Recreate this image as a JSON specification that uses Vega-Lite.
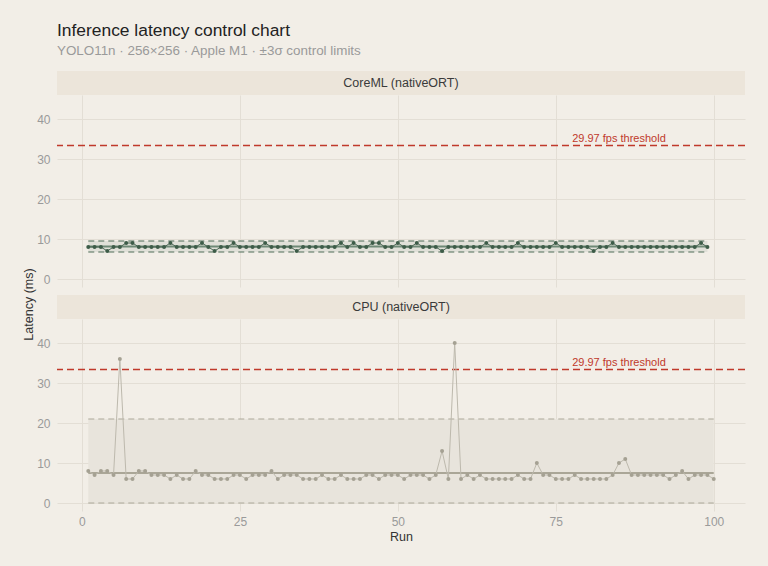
{
  "$schema": "https://vega.github.io/schema/vega-lite/v6.json",
  "autosize": {"type": "pad"},
  "padding": {"left": 21, "top": 22, "right": 23, "bottom": 24},
  "background": "#f2eee7",
  "title": {
    "text": "Inference latency control chart",
    "subtitle": "YOLO11n · 256×256 · Apple M1 · ±3σ control limits",
    "anchor": "start",
    "frame": "group",
    "fontSize": 17.4,
    "fontWeight": "normal",
    "color": "#222222",
    "subtitleFontSize": 13.4,
    "subtitleColor": "#9a9a9a",
    "subtitlePadding": 4,
    "offset": 14
  },
  "datasets": {
    "coreml": [
      {"run":1,"ms":8},{"run":2,"ms":8},{"run":3,"ms":8},{"run":4,"ms":7},{"run":5,"ms":8},{"run":6,"ms":8},{"run":7,"ms":9},{"run":8,"ms":9},{"run":9,"ms":8},{"run":10,"ms":8},
      {"run":11,"ms":8},{"run":12,"ms":8},{"run":13,"ms":8},{"run":14,"ms":9},{"run":15,"ms":8},{"run":16,"ms":8},{"run":17,"ms":8},{"run":18,"ms":8},{"run":19,"ms":9},{"run":20,"ms":8},
      {"run":21,"ms":7},{"run":22,"ms":8},{"run":23,"ms":8},{"run":24,"ms":9},{"run":25,"ms":8},{"run":26,"ms":8},{"run":27,"ms":8},{"run":28,"ms":8},{"run":29,"ms":9},{"run":30,"ms":8},
      {"run":31,"ms":8},{"run":32,"ms":8},{"run":33,"ms":8},{"run":34,"ms":7},{"run":35,"ms":8},{"run":36,"ms":8},{"run":37,"ms":8},{"run":38,"ms":8},{"run":39,"ms":8},{"run":40,"ms":8},
      {"run":41,"ms":9},{"run":42,"ms":8},{"run":43,"ms":9},{"run":44,"ms":8},{"run":45,"ms":8},{"run":46,"ms":9},{"run":47,"ms":9},{"run":48,"ms":8},{"run":49,"ms":8},{"run":50,"ms":9},
      {"run":51,"ms":8},{"run":52,"ms":8},{"run":53,"ms":9},{"run":54,"ms":8},{"run":55,"ms":8},{"run":56,"ms":8},{"run":57,"ms":7},{"run":58,"ms":8},{"run":59,"ms":8},{"run":60,"ms":8},
      {"run":61,"ms":8},{"run":62,"ms":8},{"run":63,"ms":8},{"run":64,"ms":9},{"run":65,"ms":8},{"run":66,"ms":8},{"run":67,"ms":8},{"run":68,"ms":8},{"run":69,"ms":9},{"run":70,"ms":8},
      {"run":71,"ms":8},{"run":72,"ms":8},{"run":73,"ms":8},{"run":74,"ms":8},{"run":75,"ms":9},{"run":76,"ms":8},{"run":77,"ms":8},{"run":78,"ms":8},{"run":79,"ms":8},{"run":80,"ms":8},
      {"run":81,"ms":7},{"run":82,"ms":8},{"run":83,"ms":8},{"run":84,"ms":9},{"run":85,"ms":8},{"run":86,"ms":8},{"run":87,"ms":8},{"run":88,"ms":8},{"run":89,"ms":8},{"run":90,"ms":8},
      {"run":91,"ms":8},{"run":92,"ms":8},{"run":93,"ms":8},{"run":94,"ms":8},{"run":95,"ms":8},{"run":96,"ms":8},{"run":97,"ms":8},{"run":98,"ms":9},{"run":99,"ms":8}
    ],
    "cpu": [
      {"run":1,"ms":8},{"run":2,"ms":7},{"run":3,"ms":8},{"run":4,"ms":8},{"run":5,"ms":7},{"run":6,"ms":36},{"run":7,"ms":6},{"run":8,"ms":6},{"run":9,"ms":8},{"run":10,"ms":8},
      {"run":11,"ms":7},{"run":12,"ms":7},{"run":13,"ms":7},{"run":14,"ms":6},{"run":15,"ms":7},{"run":16,"ms":6},{"run":17,"ms":6},{"run":18,"ms":8},{"run":19,"ms":7},{"run":20,"ms":7},
      {"run":21,"ms":6},{"run":22,"ms":6},{"run":23,"ms":6},{"run":24,"ms":7},{"run":25,"ms":7},{"run":26,"ms":6},{"run":27,"ms":7},{"run":28,"ms":7},{"run":29,"ms":7},{"run":30,"ms":8},
      {"run":31,"ms":6},{"run":32,"ms":7},{"run":33,"ms":7},{"run":34,"ms":7},{"run":35,"ms":6},{"run":36,"ms":6},{"run":37,"ms":6},{"run":38,"ms":7},{"run":39,"ms":6},{"run":40,"ms":6},
      {"run":41,"ms":7},{"run":42,"ms":6},{"run":43,"ms":6},{"run":44,"ms":6},{"run":45,"ms":7},{"run":46,"ms":7},{"run":47,"ms":6},{"run":48,"ms":7},{"run":49,"ms":7},{"run":50,"ms":7},
      {"run":51,"ms":6},{"run":52,"ms":7},{"run":53,"ms":7},{"run":54,"ms":7},{"run":55,"ms":6},{"run":56,"ms":7},{"run":57,"ms":13},{"run":58,"ms":6},{"run":59,"ms":40},{"run":60,"ms":6},
      {"run":61,"ms":7},{"run":62,"ms":6},{"run":63,"ms":7},{"run":64,"ms":6},{"run":65,"ms":6},{"run":66,"ms":6},{"run":67,"ms":6},{"run":68,"ms":6},{"run":69,"ms":7},{"run":70,"ms":6},
      {"run":71,"ms":6},{"run":72,"ms":10},{"run":73,"ms":7},{"run":74,"ms":7},{"run":75,"ms":6},{"run":76,"ms":6},{"run":77,"ms":6},{"run":78,"ms":7},{"run":79,"ms":6},{"run":80,"ms":6},
      {"run":81,"ms":6},{"run":82,"ms":6},{"run":83,"ms":6},{"run":84,"ms":7},{"run":85,"ms":10},{"run":86,"ms":11},{"run":87,"ms":7},{"run":88,"ms":7},{"run":89,"ms":7},{"run":90,"ms":7},
      {"run":91,"ms":7},{"run":92,"ms":7},{"run":93,"ms":6},{"run":94,"ms":7},{"run":95,"ms":8},{"run":96,"ms":6},{"run":97,"ms":7},{"run":98,"ms":7},{"run":99,"ms":7},{"run":100,"ms":6}
    ],
    "limits": [
      {"backend": "CoreML (nativeORT)", "first": 1, "last": 99, "mean": 8.12, "ucl": 9.5, "lcl": 6.75},
      {"backend": "CPU (nativeORT)", "first": 1, "last": 100, "mean": 7.5, "ucl": 21.0, "lcl": 0}
    ],
    "threshold": [
      {"ms": 33.37, "label": "29.97 fps threshold"}
    ]
  },
  "spacing": 0,
  "bounds": "flush",
  "vconcat": [
    {
      "width": 688,
      "height": 24,
      "data": {"name": "limits"},
      "transform": [{"filter": "datum.backend === 'CoreML (nativeORT)'"}],
      "layer": [
        {
          "mark": {"type": "rect", "color": "#ece5da"},
          "encoding": {
            "x": {"datum": 0, "type": "quantitative", "scale": {"domain": [0, 1], "nice": false}, "axis": null},
            "x2": {"datum": 1},
            "y": {"datum": 0, "type": "quantitative", "scale": {"domain": [0, 24], "nice": false}, "axis": null},
            "y2": {"datum": 24}
          }
        },
        {
          "mark": {"type": "text", "fontSize": 12.5, "color": "#3a3a3a"},
          "encoding": {
            "x": {"datum": 0.5, "type": "quantitative"},
            "y": {"datum": 12, "type": "quantitative"},
            "text": {"field": "backend"}
          }
        }
      ]
    },
    {
      "width": 688,
      "height": 192,
      "layer": [
        {
          "data": {"name": "limits"},
          "transform": [{"filter": "datum.backend === 'CoreML (nativeORT)'"}],
          "mark": {"type": "rect", "color": "#e0e0d8"},
          "encoding": {
            "x": {"field": "first", "type": "quantitative", "scale": {"domain": [-3.95, 104.95], "nice": false, "zero": false},
                  "axis": {"title": null, "labels": false, "ticks": false, "domain": false, "grid": true, "values": [0, 25, 50, 75, 100]}},
            "x2": {"field": "last"},
            "y": {"field": "lcl", "type": "quantitative", "scale": {"domain": [-2, 46], "nice": false, "zero": false},
                  "axis": {"title": null, "values": [0, 10, 20, 30, 40], "labelPadding": 7}},
            "y2": {"field": "ucl"}
          }
        },
        {
          "data": {"name": "limits"},
          "transform": [{"filter": "datum.backend === 'CoreML (nativeORT)'"}],
          "mark": {"type": "rule", "color": "#4f6d58", "strokeDash": [6, 4], "strokeWidth": 1.2},
          "encoding": {"x": {"field": "first", "type": "quantitative"}, "x2": {"field": "last"}, "y": {"field": "ucl", "type": "quantitative"}}
        },
        {
          "data": {"name": "limits"},
          "transform": [{"filter": "datum.backend === 'CoreML (nativeORT)'"}],
          "mark": {"type": "rule", "color": "#4f6d58", "strokeDash": [6, 4], "strokeWidth": 1.2},
          "encoding": {"x": {"field": "first", "type": "quantitative"}, "x2": {"field": "last"}, "y": {"field": "lcl", "type": "quantitative"}}
        },
        {
          "data": {"name": "limits"},
          "transform": [{"filter": "datum.backend === 'CoreML (nativeORT)'"}],
          "mark": {"type": "rule", "color": "#6f8a77", "strokeWidth": 2},
          "encoding": {"x": {"field": "first", "type": "quantitative"}, "x2": {"field": "last"}, "y": {"field": "mean", "type": "quantitative"}}
        },
        {
          "data": {"name": "threshold"},
          "mark": {"type": "rule", "color": "#c0392b", "strokeDash": [7, 4], "strokeWidth": 1.5},
          "encoding": {"y": {"field": "ms", "type": "quantitative"}}
        },
        {
          "data": {"name": "threshold"},
          "mark": {"type": "text", "color": "#c0392b", "fontSize": 11, "baseline": "bottom", "align": "center", "dy": -2},
          "encoding": {"x": {"datum": 85, "type": "quantitative"}, "y": {"field": "ms", "type": "quantitative"}, "text": {"field": "label"}}
        },
        {
          "data": {"name": "coreml"},
          "mark": {"type": "line", "color": "#3d5c48", "strokeWidth": 0.9},
          "encoding": {"x": {"field": "run", "type": "quantitative"}, "y": {"field": "ms", "type": "quantitative"}}
        },
        {
          "data": {"name": "coreml"},
          "mark": {"type": "circle", "color": "#3d5c48", "opacity": 1, "size": 16},
          "encoding": {"x": {"field": "run", "type": "quantitative"}, "y": {"field": "ms", "type": "quantitative"}}
        }
      ]
    },
    {
      "width": 688,
      "height": 32,
      "data": {"name": "limits"},
      "transform": [{"filter": "datum.backend === 'CPU (nativeORT)'"}],
      "layer": [
        {
          "mark": {"type": "rect", "color": "#ece5da"},
          "encoding": {
            "x": {"datum": 0, "type": "quantitative", "scale": {"domain": [0, 1], "nice": false}, "axis": null},
            "x2": {"datum": 1},
            "y": {"datum": 0, "type": "quantitative", "scale": {"domain": [0, 32], "nice": false}, "axis": null},
            "y2": {"datum": 24}
          }
        },
        {
          "mark": {"type": "text", "fontSize": 12.5, "color": "#3a3a3a"},
          "encoding": {
            "x": {"datum": 0.5, "type": "quantitative"},
            "y": {"datum": 12, "type": "quantitative"},
            "text": {"field": "backend"}
          }
        }
      ]
    },
    {
      "width": 688,
      "height": 192,
      "layer": [
        {
          "data": {"name": "limits"},
          "transform": [{"filter": "datum.backend === 'CPU (nativeORT)'"}],
          "mark": {"type": "rect", "color": "#e8e4dc"},
          "encoding": {
            "x": {"field": "first", "type": "quantitative", "scale": {"domain": [-3.95, 104.95], "nice": false, "zero": false},
                  "axis": {"title": "Run", "values": [0, 25, 50, 75, 100], "labelPadding": 5, "titlePadding": 3}},
            "x2": {"field": "last"},
            "y": {"field": "lcl", "type": "quantitative", "scale": {"domain": [-2, 46], "nice": false, "zero": false},
                  "axis": {"title": "Latency (ms)", "values": [0, 10, 20, 30, 40], "labelPadding": 7, "titleX": -22, "titleY": -15, "titleBaseline": "bottom", "titleAngle": 270, "titleAlign": "center"}},
            "y2": {"field": "ucl"}
          }
        },
        {
          "data": {"name": "limits"},
          "transform": [{"filter": "datum.backend === 'CPU (nativeORT)'"}],
          "mark": {"type": "rule", "color": "#aba799", "strokeDash": [6, 4], "strokeWidth": 1.2},
          "encoding": {"x": {"field": "first", "type": "quantitative"}, "x2": {"field": "last"}, "y": {"field": "ucl", "type": "quantitative"}}
        },
        {
          "data": {"name": "limits"},
          "transform": [{"filter": "datum.backend === 'CPU (nativeORT)'"}],
          "mark": {"type": "rule", "color": "#aba799", "strokeDash": [6, 4], "strokeWidth": 1.2},
          "encoding": {"x": {"field": "first", "type": "quantitative"}, "x2": {"field": "last"}, "y": {"field": "lcl", "type": "quantitative"}}
        },
        {
          "data": {"name": "limits"},
          "transform": [{"filter": "datum.backend === 'CPU (nativeORT)'"}],
          "mark": {"type": "rule", "color": "#aaa697", "strokeWidth": 2},
          "encoding": {"x": {"field": "first", "type": "quantitative"}, "x2": {"field": "last"}, "y": {"field": "mean", "type": "quantitative"}}
        },
        {
          "data": {"name": "threshold"},
          "mark": {"type": "rule", "color": "#c0392b", "strokeDash": [7, 4], "strokeWidth": 1.5},
          "encoding": {"y": {"field": "ms", "type": "quantitative"}}
        },
        {
          "data": {"name": "threshold"},
          "mark": {"type": "text", "color": "#c0392b", "fontSize": 11, "baseline": "bottom", "align": "center", "dy": -2},
          "encoding": {"x": {"datum": 85, "type": "quantitative"}, "y": {"field": "ms", "type": "quantitative"}, "text": {"field": "label"}}
        },
        {
          "data": {"name": "cpu"},
          "mark": {"type": "line", "color": "#bdb9ad", "strokeWidth": 1},
          "encoding": {"x": {"field": "run", "type": "quantitative"}, "y": {"field": "ms", "type": "quantitative"}}
        },
        {
          "data": {"name": "cpu"},
          "mark": {"type": "circle", "color": "#a5a193", "opacity": 1, "size": 16},
          "encoding": {"x": {"field": "run", "type": "quantitative"}, "y": {"field": "ms", "type": "quantitative"}}
        }
      ]
    }
  ],
  "config": {
    "font": "Liberation Sans",
    "view": {"stroke": null},
    "axis": {
      "gridColor": "#e3ded5",
      "gridWidth": 1,
      "domain": false,
      "ticks": false,
      "labelColor": "#9a9a9a",
      "labelFontSize": 12,
      "titleColor": "#333333",
      "titleFontSize": 12.5,
      "titleFontWeight": "normal"
    }
  }
}
